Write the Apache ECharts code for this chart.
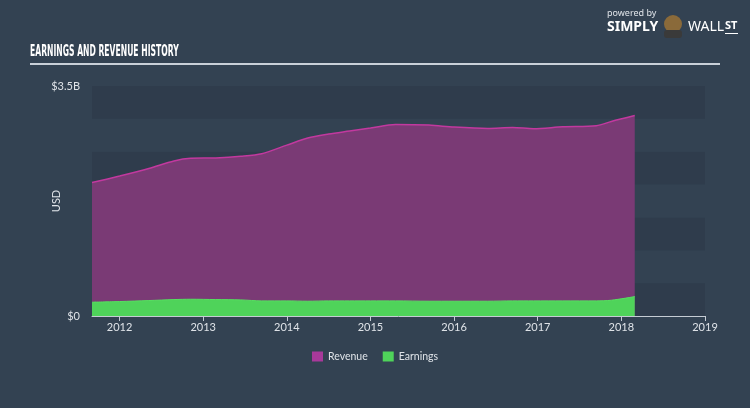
<!DOCTYPE html>
<html><head><meta charset="utf-8">
<script src="https://cdn.jsdelivr.net/npm/echarts@6/dist/echarts.min.js"></script>
<style>html,body{margin:0;padding:0;background:#334252;}#c{width:750px;height:408px;}</style>
</head><body><div id="c"></div>
<script>
var years = [2011.67, 2012.0, 2012.35, 2012.65, 2012.85, 2013.15, 2013.45, 2013.7, 2014.0, 2014.25, 2014.5, 2014.75, 2015.0, 2015.3, 2015.7, 2016.0, 2016.4, 2016.7, 2016.95, 2017.3, 2017.7, 2017.88, 2018.16];
var revenue = [2.03, 2.13, 2.245, 2.36, 2.40, 2.405, 2.43, 2.47, 2.60, 2.71, 2.77, 2.815, 2.86, 2.915, 2.905, 2.875, 2.855, 2.87, 2.85, 2.88, 2.895, 2.96, 3.05];
var earnings = [0.21, 0.22, 0.235, 0.25, 0.255, 0.25, 0.245, 0.23, 0.23, 0.225, 0.23, 0.23, 0.23, 0.23, 0.225, 0.225, 0.225, 0.23, 0.23, 0.23, 0.23, 0.24, 0.295];
var xTicks = [2012, 2013, 2014, 2015, 2016, 2017, 2018, 2019];
var yTicks = [0, 3.5];
var seriesNames = ['Revenue', 'Earnings'];

function pairs(v){ return years.map(function(y,i){ return [y, v[i]]; }); }

var chart = echarts.init(document.getElementById('c'), null, {renderer:'canvas'});
chart.setOption({
  backgroundColor: '#334252',
  animation: false,
  grid: {left: 92, right: 45, top: 86, bottom: 92},
  legend: {
    data: seriesNames, top: 346, left: 'center', itemWidth: 11, itemHeight: 10, itemGap: 15,
    icon: 'rect',
    textStyle: {color: '#dfe3e8', fontSize: 10.5, fontFamily: 'Lato, "Noto Sans", sans-serif'}
  },
  graphic: [
    {type:'text', x: 30, y: 45, scaleX: 0.51, style:{text:'EARNINGS AND REVENUE HISTORY', fill:'#ffffff', font:'bold 15px "DejaVu Sans", sans-serif'}},
    {type:'rect', shape:{x:30, y:63, width:690, height:2}, style:{fill:'#c9d0d8'}},
    {type:'text', left: 607, top: 9, style:{text:'powered by', fill:'#dfe3e8', font:'9px "Noto Sans", sans-serif'}},
    {type:'text', left: 607, top: 20, style:{text:'SIMPLY', fill:'#ffffff', font:'bold 14px "Noto Sans", sans-serif'}},
    {type:'circle', shape:{cx:673, cy:24, r:9}, style:{fill:'#8a6a3a'}},
    {type:'rect', shape:{x:664, y:30, width:18, height:8, r:3}, style:{fill:'#3a3a3a'}},
    {type:'text', left: 688, top: 20, style:{text:'WALL', fill:'#ffffff', font:'14px "Noto Sans", sans-serif'}},
    {type:'text', left: 725, top: 20, style:{text:'ST', fill:'#ffffff', font:'bold 11px "Noto Sans", sans-serif'}},
    {type:'rect', shape:{x:725, y:33, width:13, height:1}, style:{fill:'#ffffff'}}
  ],
  xAxis: {
    type: 'value', min: 2011.67, max: 2019,
    axisLine: {show: true, lineStyle: {color: '#c5ccd4', width: 1}},
    axisTick: {show: true, length: 5, inside: false, customValues: xTicks, lineStyle: {color: '#c5ccd4'}},
    axisLabel: {customValues: xTicks, color: '#dfe3e8', fontSize: 11, margin: 6, fontFamily: 'Lato, "Noto Sans", sans-serif', formatter: function(v){ return String(Math.round(v)); }},
    splitLine: {show: false}
  },
  yAxis: {
    type: 'value', min: 0, max: 3.5, interval: 0.5,
    name: 'USD', nameLocation: 'middle', nameGap: 30, nameRotate: 90, nameMoveOverlap: false,
    nameTextStyle: {color: '#dfe3e8', fontSize: 11, fontFamily: 'Lato, "Noto Sans", sans-serif'},
    axisLine: {show: false}, axisTick: {show: false},
    axisLabel: {customValues: yTicks, color: '#dfe3e8', fontSize: 11, margin: 12, fontFamily: 'Lato, "Noto Sans", sans-serif',
      formatter: function(v){ return v === 0 ? '$0' : '$' + v + 'B'; }},
    splitLine: {show: false},
    splitArea: {show: true, areaStyle: {color: ['#2f3c4c', '#334252']}}
  },
  series: [
    {name: seriesNames[0], type: 'line', data: pairs(revenue), smooth: 0.3, symbol: 'none',
     itemStyle: {color: '#a8399a'},
     lineStyle: {color: '#c2399f', width: 1.5},
     areaStyle: {color: '#7a3a75', opacity: 1}},
    {name: seriesNames[1], type: 'line', data: pairs(earnings), smooth: 0.3, symbol: 'none',
     itemStyle: {color: '#4fd35a'},
     lineStyle: {color: '#56e060', width: 1},
     areaStyle: {color: '#4fd35a', opacity: 1}}
  ]
});
</script></body></html>
